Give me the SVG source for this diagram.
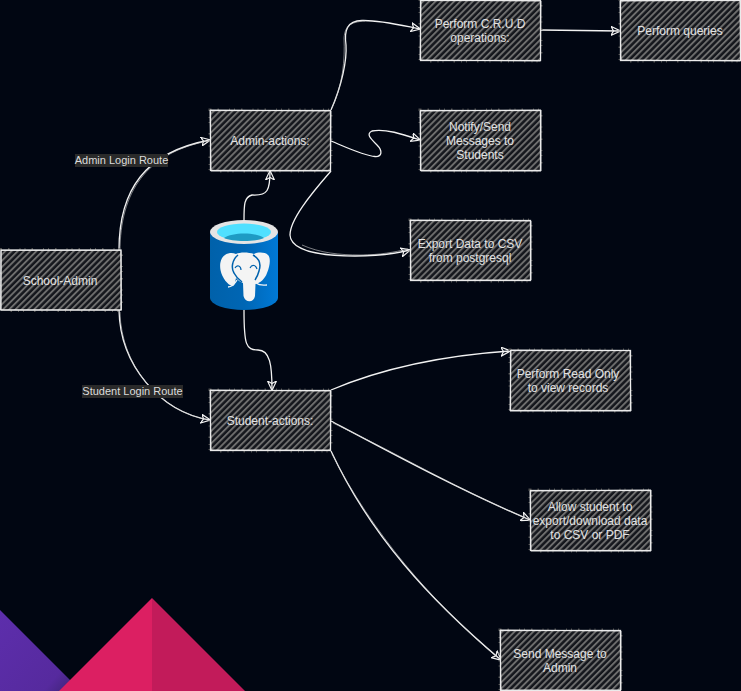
<svg xmlns="http://www.w3.org/2000/svg" width="741" height="691" viewBox="0 0 741 691">
<style>
.spill{fill:none;stroke:#4c4c4c;stroke-width:4;stroke-dasharray:1 6 1.500 10 1 4}
.box{fill:url(#hatch);stroke:#e6e6e6;stroke-width:1.300}
.sk{fill:none;stroke:#f0f0f0;stroke-width:.8}
.t{font-family:"Liberation Sans",Arial,sans-serif;font-size:12px;fill:#e2e2e2;text-anchor:middle}
.lb{font-family:"Liberation Sans",Arial,sans-serif;font-size:11px;fill:#dcdcdc;text-anchor:middle}
.lbg{fill:#2a2a2a}
.c{fill:none;stroke:#f2f2f2;stroke-width:1.300;marker-end:url(#arrow)}
.c2{fill:none;stroke:#cfcfcf;stroke-width:.6}
</style>
<defs>
<pattern id="hatch" width="4.400" height="12" patternUnits="userSpaceOnUse" patternTransform="rotate(45)">
<rect width="4.400" height="12" fill="#14161c"/>
<rect x="0" width="1.900" height="12" fill="#6e6e6e"/>
</pattern>
<marker id="arrow" viewBox="0 0 10 10" refX="9" refY="5" markerWidth="10" markerHeight="10" markerUnits="userSpaceOnUse" orient="auto">
<path d="M0 .5L9.500 5L0 9.500L2.500 5Z" fill="none" stroke="#f2f2f2" stroke-width="1.200"/>
</marker>
<linearGradient id="cyl" x1="0" x2="1" y1="0" y2="0">
<stop offset="0" stop-color="#0061aa"/><stop offset=".5" stop-color="#0066b4"/><stop offset="1" stop-color="#0079d6"/>
</linearGradient>
<linearGradient id="purple" x1="0" x2="1" y1="0" y2="1">
<stop offset="0" stop-color="#5d2eac"/><stop offset=".8" stop-color="#562a9e"/><stop offset="1" stop-color="#3f2477"/>
</linearGradient>
</defs>
<rect width="741" height="691" fill="#010612"/>
<g id="decor">
<path d="M0 610L72 682L60 691H0Z" fill="url(#purple)"/>
<path d="M59 691L152 598V691Z" fill="#dc1f62"/>
<path d="M152 598L245 691H152Z" fill="#c21b5a"/>
</g>
<g id="connectors">
<path class="c" d="M119 250C119 190 145 152 210 140"/>
<path class="c2" d="M120 252C120 192 146 153 208 141"/>
<path class="c" d="M119 310C120 365 160 412 210 420"/>
<path class="c2" d="M120 312C121 367 161 411 208 420"/>
<path class="c" d="M244 220C244 205 244 197 252 195C268 196 270 190 270 171"/>
<path class="c" d="M244 310C244 345 246 350 258 350C270 350 272 365 272 390"/>
<path class="c" d="M331 110C342 85 347 60 346 45C344 30 347 21 362 20.500C380 20 400 25 420 29"/>
<path class="c2" d="M332 108C343 84 345 60 344 38C345 26 350 22 365 21"/>
<path class="c" d="M331 141C350 149 365 156 375 156.500C382 157 383 151 377 145C370 138 366 134 372 131C385 128 405 135 420 140"/>
<path class="c" d="M331 171C310 195 290 220 290 235C291 252 325 256 355 256C375 256 395 254 410 250"/>
<path class="c2" d="M302 245C320 253 340 255 360 255C380 255 395 252 408 249"/>
<path class="c" d="M541 30L620 31"/>
<path class="c" d="M331 390C390 365 450 355 510 351"/>
<path class="c" d="M331 421C395 455 460 490 530 520"/>
<path class="c2" d="M333 423C395 452 462 492 528 519"/>
<path class="c" d="M331 451C370 535 430 600 501 660"/>
<path class="c2" d="M332 454C372 533 432 602 498 658"/>
</g>
<g id="school-admin"><rect class="spill" x="1" y="250" width="120" height="60"/><rect class="box" x="1" y="250" width="120" height="60"/><path class="sk" d="M1 250.500H121L121.500 310H0.500Z"/><text class="t" x="60" y="285">School-Admin</text></g>
<g id="admin-actions"><rect class="spill" x="210.500" y="110.500" width="120" height="60"/><rect class="box" x="210.500" y="110.500" width="120" height="60"/><path class="sk" d="M210 110L331 111L330.500 171H211Z"/><text class="t" x="270" y="145">Admin-actions:</text></g>
<g id="student-actions"><rect class="spill" x="210.500" y="390.500" width="120" height="60"/><rect class="box" x="210.500" y="390.500" width="120" height="60"/><path class="sk" d="M210 390L331 391L330.500 450H211Z"/><text class="t" x="270" y="425">Student-actions:</text></g>
<g id="crud"><rect class="spill" x="420.500" y="0.500" width="120" height="60"/><rect class="box" x="420.500" y="0.500" width="120" height="60"/><path class="sk" d="M421 0L541 1L540.500 61L420 60Z"/><text class="t" x="480" y="28">Perform C.R.U.D</text><text class="t" x="480" y="42">operations:</text></g>
<g id="queries"><rect class="spill" x="620.500" y="0.500" width="120" height="60"/><rect class="box" x="620.500" y="0.500" width="120" height="60"/><path class="sk" d="M620 1L740 0L740.500 61L621 60Z"/><text class="t" x="680" y="35">Perform queries</text></g>
<g id="notify"><rect class="spill" x="420.500" y="110.500" width="120" height="60"/><rect class="box" x="420.500" y="110.500" width="120" height="60"/><path class="sk" d="M420 111L541 110L541 171L421 171Z"/><text class="t" x="480" y="131">Notify/Send</text><text class="t" x="480" y="145">Messages to</text><text class="t" x="480" y="159">Students</text></g>
<g id="export-csv"><rect class="spill" x="410.500" y="220.500" width="120" height="60"/><rect class="box" x="410.500" y="220.500" width="120" height="60"/><path class="sk" d="M410 220L531 221L531 280L411 280Z"/><text class="t" x="470" y="248">Export Data to CSV</text><text class="t" x="470" y="262">from postgresql</text></g>
<g id="read-only"><rect class="spill" x="510.500" y="350.500" width="120" height="60"/><rect class="box" x="510.500" y="350.500" width="120" height="60"/><path class="sk" d="M511 350L630 350.500L631 411L510 411Z"/><text class="t" x="568" y="378">Perform Read Only</text><text class="t" x="568" y="392">to view records</text></g>
<g id="allow-export"><rect class="spill" x="530.500" y="490.500" width="120" height="60"/><rect class="box" x="530.500" y="490.500" width="120" height="60"/><path class="sk" d="M530 491L651 490L651 551L531 551Z"/><text class="t" x="590" y="511">Allow student to</text><text class="t" x="590" y="525">export/download data</text><text class="t" x="590" y="539">to CSV or PDF</text></g>
<g id="send-message"><rect class="spill" x="500.500" y="630.500" width="120" height="60"/><rect class="box" x="500.500" y="630.500" width="120" height="60"/><path class="sk" d="M500 630L621 631L621 690L501 690Z"/><text class="t" x="560" y="658">Send Message to</text><text class="t" x="560" y="672">Admin</text></g>
<g id="labels">
<rect class="lbg" x="75" y="154" width="93" height="13"/><text class="lb" x="121.500" y="164">Admin Login Route</text>
<rect class="lbg" x="82" y="385" width="101" height="13"/><text class="lb" x="132.500" y="395">Student Login Route</text>
</g>
<g id="postgres">
<path d="M210 232V298A34 12 0 0 0 278 298V232Z" fill="url(#cyl)"/>
<ellipse cx="244" cy="232" rx="34" ry="12" fill="#e4e4e4"/>
<ellipse cx="244" cy="232" rx="27" ry="8.500" fill="#50e0ff"/>
<path d="M224 238C232 232 256 232 264 238C256 242 232 242 224 238Z" fill="#1e9bc4"/>
<path d="M230 253C222 254 219 262 220.500 270C222 278 228 285 232 286C235 286.500 235 282 236 278C238 280 240 282 243 283L243.500 296C245 303 254 303 255 296L255.500 284C260 283 265 279 267 273C270 266 271 258 268 255C265 252 258 252 254 254C248 252 240 252 236 254C234 253 232 252.800 230 253Z" fill="#f4f4f4"/>
<path d="M238 255C232 260 231 268 234 273C236 277 238 279 242 282M253 255C260 259 261 265 259 271C258 275 257 277 255 280" fill="none" stroke="#0062ad" stroke-width="1.500"/>
<path d="M237 280C233 287 230 287 228 287M256 283C260 286 264 285 267 285" fill="none" stroke="#f4f4f4" stroke-width="1.300"/>
<path d="M235 268C237 264 241 266 241 270M250 268C252 264 256 265 257 269" fill="none" stroke="#0062ad" stroke-width="1.200"/>
</g>
</svg>
